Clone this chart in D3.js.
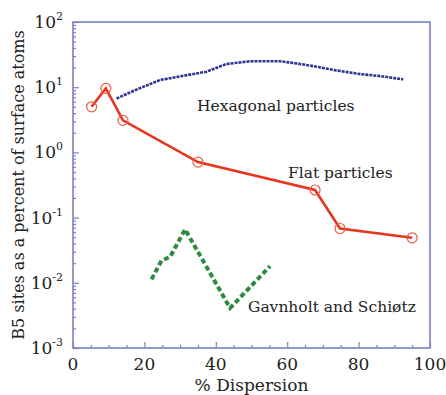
<!DOCTYPE html>
<html>
  <head>
    <script src="https://cdn.jsdelivr.net/npm/d3@7"></script>
    <style>
      body { margin: 0; background: #fff; }
    </style>
  </head>
  <body>
    <svg width="446" height="395" id="mainsvg"></svg>
    <script>
      // data
      const flatX = [5.2, 9.2, 14, 35, 67.8, 74.8, 95];
      const flatY = [5.0, 9.6, 3.1, 0.71, 0.265, 0.068, 0.049];
      const hexX = [12.2, 18, 24.4, 31, 37.4, 43, 49.6, 58, 63, 68.3, 74, 80.4, 86, 92.5];
      const hexY = [6.7, 9.3, 12.9, 15, 17.3, 22.7, 25, 25, 23, 20.6, 18, 15.9, 14.8, 13.2];
      const gsX = [22, 24.8, 27.2, 31.4, 44, 55.2];
      const gsY = [0.0113, 0.0219, 0.025, 0.066, 0.0041, 0.018];
      const xTicks = [0, 20, 40, 60, 80, 100];
      const yExps = [-3, -2, -1, 0, 1, 2];

      const serif = "'DejaVu Serif', serif";
      const svg = d3.select("#mainsvg");
      const margin = { left: 73, top: 22, right: 16, bottom: 47 };
      const width = +svg.attr("width");
      const height = +svg.attr("height");

      const x = d3.scaleLinear().domain([0, 100]).range([margin.left, width - margin.right]);
      const y = d3.scaleLog().domain([1e-3, 1e2]).range([height - margin.bottom, margin.top]);

      const frameColor = "#7c80c6";

      // ticks inside the frame
      const minorY = [];
      yExps.slice(0, -1).forEach((e) => {
        for (let k = 2; k <= 9; k++) minorY.push(k * Math.pow(10, e));
      });
      const axL = svg.append("g").attr("transform", `translate(${margin.left},0)`);
      axL.call(d3.axisLeft(y).tickValues(yExps.map((e) => Math.pow(10, e))).tickSize(-6).tickFormat(""));
      axL.append("g").call(d3.axisLeft(y).tickValues(minorY).tickSize(-3).tickFormat(""));
      axL.selectAll("path").remove();
      axL.selectAll("line").attr("stroke", frameColor).attr("stroke-width", 1.2);

      const minorX = d3.range(5, 100, 5).filter((v) => v % 20 !== 0);
      const axB = svg.append("g").attr("transform", `translate(0,${height - margin.bottom})`);
      axB.call(d3.axisBottom(x).tickValues(xTicks).tickSize(-6).tickFormat(""));
      axB.append("g").call(d3.axisBottom(x).tickValues(minorX).tickSize(-3).tickFormat(""));
      axB.selectAll("path").remove();
      axB.selectAll("line").attr("stroke", frameColor).attr("stroke-width", 1.2);

      // frame
      svg.append("rect")
        .attr("x", margin.left)
        .attr("y", margin.top)
        .attr("width", width - margin.left - margin.right)
        .attr("height", height - margin.top - margin.bottom)
        .attr("fill", "none")
        .attr("stroke", frameColor)
        .attr("stroke-width", 1.6);

      // text layer, serif like the figure
      const tg = svg.append("g").attr("font-family", serif).attr("fill", "#222");

      tg.selectAll(".xlab")
        .data(xTicks)
        .join("text")
        .attr("class", "xlab")
        .attr("x", (d) => x(d))
        .attr("y", 370)
        .attr("text-anchor", "middle")
        .attr("font-size", 17)
        .text((d) => d);

      const yl = tg.selectAll(".ylab")
        .data(yExps)
        .join("text")
        .attr("class", "ylab")
        .attr("x", 63)
        .attr("y", (d) => y(Math.pow(10, d)) + 6)
        .attr("text-anchor", "end")
        .attr("font-size", 17);
      yl.append("tspan").text("10");
      yl.append("tspan").attr("dy", -8).attr("font-size", 11).text((d) => d);

      // axis titles
      tg.append("text")
        .attr("x", x(50))
        .attr("y", 391)
        .attr("text-anchor", "middle")
        .attr("font-size", 17)
        .text("% Dispersion");
      tg.append("text")
        .attr("transform", `translate(24,${(margin.top + height - margin.bottom) / 2}) rotate(-90)`)
        .attr("text-anchor", "middle")
        .attr("font-size", 16)
        .text("B5 sites as a percent of surface atoms");

      const line = d3.line().x((d) => x(d[0])).y((d) => y(d[1]));

      // hexagonal particles
      svg.append("path")
        .attr("d", line(d3.zip(hexX, hexY)))
        .attr("fill", "none")
        .attr("stroke", "#2b3590")
        .attr("stroke-width", 2.6)
        .attr("stroke-dasharray", "3,1");

      // Gavnholt and Schiøtz
      svg.append("path")
        .attr("d", line(d3.zip(gsX, gsY)))
        .attr("fill", "none")
        .attr("stroke", "#2e8b3e")
        .attr("stroke-width", 4)
        .attr("stroke-dasharray", "5,3");

      // flat particles
      const flat = d3.zip(flatX, flatY);
      svg.append("path")
        .attr("d", line(flat))
        .attr("fill", "none")
        .attr("stroke", "#e8351f")
        .attr("stroke-width", 2.6);
      svg.selectAll(".flatPt")
        .data(flat)
        .join("circle")
        .attr("class", "flatPt")
        .attr("cx", (d) => x(d[0]))
        .attr("cy", (d) => y(d[1]))
        .attr("r", 5)
        .attr("fill", "none")
        .attr("stroke", "#ec5a45")
        .attr("stroke-width", 1.2);

      // series labels
      const notes = [
        { t: "Hexagonal particles", x: 197, y: 111 },
        { t: "Flat particles", x: 288, y: 178 },
        { t: "Gavnholt and Schiøtz", x: 248, y: 312 },
      ];
      svg.append("g").attr("font-family", serif).attr("fill", "#222")
        .selectAll(".note")
        .data(notes)
        .join("text")
        .attr("class", "note")
        .attr("x", (d) => d.x)
        .attr("y", (d) => d.y)
        .attr("font-size", 15.5)
        .text((d) => d.t);
    </script>
  </body>
</html>
